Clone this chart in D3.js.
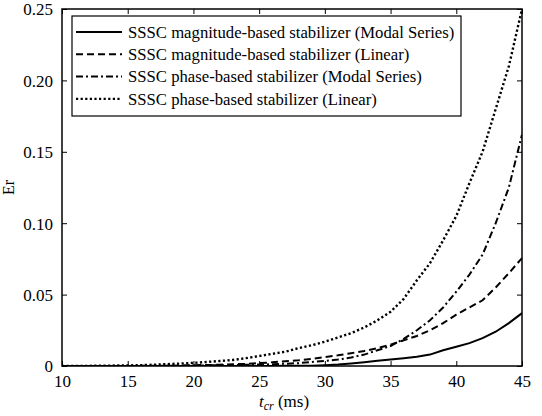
<!DOCTYPE html>
<html>
<head>
<meta charset="utf-8">
<script src="https://cdn.jsdelivr.net/npm/d3@7"></script>
<style>
  body { margin: 0; background: #fff; }
  text { font-family: "Liberation Serif", "Times New Roman", serif; fill: #000; }
</style>
</head>
<body>
<div id="chart"></div>
<script>
// data
var tcr = [10,11,12,13,14,15,16,17,18,19,20,21,22,23,24,25,26,27,28,29,30,31,32,33,34,35,36,37,38,39,40,41,42,43,44,45];

var magModal = [0,0,0,0,0,0,0,0,0,0,0,0,0,0,0,0,0,0.0001,0.0001,0.0002,0.0005,0.001,0.0018,0.0027,0.0036,0.0045,0.0055,0.0065,0.008,0.011,0.0135,0.016,0.0195,0.024,0.030,0.037];
var magLinear = [0,0,0,0,0,0,0.0001,0.0001,0.0002,0.0003,0.0005,0.0007,0.0009,0.0012,0.0015,0.002,0.0026,0.0033,0.004,0.005,0.0063,0.0075,0.009,0.0105,0.0125,0.015,0.018,0.021,0.025,0.030,0.036,0.041,0.046,0.055,0.065,0.0756];
var phaseModal = [0,0,0,0,0,0,0,0,0.0001,0.0002,0.0003,0.0004,0.0005,0.0006,0.0008,0.001,0.0012,0.0016,0.002,0.0028,0.0035,0.0045,0.006,0.008,0.011,0.014,0.019,0.025,0.032,0.041,0.052,0.064,0.078,0.100,0.125,0.162];
var phaseLinear = [0,0.0001,0.0001,0.0002,0.0003,0.0004,0.0006,0.0009,0.0013,0.0017,0.0022,0.0028,0.0035,0.0042,0.0055,0.007,0.0085,0.010,0.0125,0.0145,0.017,0.020,0.023,0.027,0.032,0.038,0.047,0.060,0.072,0.088,0.105,0.128,0.15,0.18,0.21,0.25];

var seriesNames = [
  "SSSC magnitude-based stabilizer (Modal Series)",
  "SSSC magnitude-based stabilizer (Linear)",
  "SSSC phase-based stabilizer (Modal Series)",
  "SSSC phase-based stabilizer (Linear)"
];
var xTicks = [10,15,20,25,30,35,40,45];
var yTicks = [0,0.05,0.10,0.15,0.20,0.25];
var yTickLabels = ["0","0.05","0.10","0.15","0.20","0.25"];

var W = 542, H = 416;
var margin = {top: 9, right: 20, bottom: 50, left: 62};
var width = W - margin.left - margin.right;
var height = H - margin.top - margin.bottom;

var svg = d3.select("#chart").append("svg")
  .attr("width", W)
  .attr("height", H);

var g = svg.append("g")
  .attr("transform", `translate(${margin.left},${margin.top})`);

var x = d3.scaleLinear().domain([10, 45]).range([0, width]);
var y = d3.scaleLinear().domain([0, 0.25]).range([height, 0]);

var dashes = ["none", "7,4", "7,3,2,3", "2.2,2.4"];
var widths = [2, 2, 2, 2.4];
var allSeries = [magModal, magLinear, phaseModal, phaseLinear];

// clip so lines stay in the frame
g.append("clipPath").attr("id", "clip")
  .append("rect").attr("width", width).attr("height", height);

var line = d3.line()
  .x(function(d, i) { return x(tcr[i]); })
  .y(function(d) { return y(d); });

allSeries.forEach(function(s, k) {
  g.append("path")
    .datum(s)
    .attr("clip-path", "url(#clip)")
    .attr("fill", "none")
    .attr("stroke", "#000")
    .attr("stroke-width", widths[k])
    .attr("stroke-dasharray", dashes[k])
    .attr("d", line);
});

// axes, ticks pointing inward
var xAxis = g.append("g").attr("transform", `translate(0,${height})`)
  .call(d3.axisBottom(x).tickValues(xTicks).tickSizeInner(-5).tickSizeOuter(0).tickPadding(9));
var xTop = g.append("g")
  .call(d3.axisTop(x).tickValues(xTicks).tickSizeInner(-5).tickSizeOuter(0).tickFormat(""));
var yAxis = g.append("g")
  .call(d3.axisLeft(y).tickValues(yTicks).tickSizeInner(-5).tickSizeOuter(0).tickPadding(9)
    .tickFormat(function(d, i) { return yTickLabels[i]; }));
var yRight = g.append("g").attr("transform", `translate(${width},0)`)
  .call(d3.axisRight(y).tickValues(yTicks).tickSizeInner(-5).tickSizeOuter(0).tickFormat(""));

[xAxis, xTop, yAxis, yRight].forEach(function(a) {
  a.select(".domain").remove();
  a.attr("font-family", null);
  a.selectAll("line").attr("stroke", "#000").attr("stroke-width", 1);
  a.selectAll("text").style("font-family", '"Liberation Serif", serif').style("font-size", "17px").attr("fill", "#000");
});
yAxis.selectAll("text").attr("dy", "0.35em");

g.append("rect")
  .attr("width", width).attr("height", height)
  .attr("fill", "none").attr("stroke", "#000").attr("stroke-width", 1.5);

// legend
var leg = g.append("g").attr("transform", "translate(10,7)");
leg.append("rect")
  .attr("width", 389).attr("height", 100)
  .attr("fill", "#fff").attr("stroke", "#000").attr("stroke-width", 1.2);
seriesNames.forEach(function(name, k) {
  var yy = 16 + k * 22.3;
  leg.append("line")
    .attr("x1", 4).attr("x2", 50).attr("y1", yy).attr("y2", yy)
    .attr("stroke", "#000").attr("stroke-width", widths[k])
    .attr("stroke-dasharray", dashes[k]);
  leg.append("text")
    .attr("x", 56).attr("y", yy).attr("dy", "0.35em")
    .style("font-size", "16.7px")
    .text(name);
});

// axis labels
svg.append("text")
  .attr("transform", `translate(14,${margin.top + height / 2}) rotate(-90)`)
  .attr("text-anchor", "middle")
  .style("font-size", "16px")
  .text("Er");

var xl = svg.append("text")
  .attr("x", 284)
  .attr("y", 407)
  .attr("text-anchor", "middle")
  .style("font-size", "17px");
xl.append("tspan").style("font-style", "italic").text("t");
xl.append("tspan").attr("dy", 3).style("font-size", "12px").style("font-style", "italic").text("cr");
xl.append("tspan").attr("dy", -3).text(" (ms)");
</script>
</body>
</html>
